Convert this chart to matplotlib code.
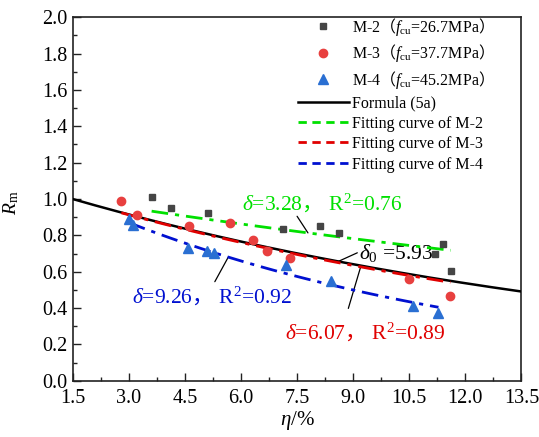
import numpy as np
import matplotlib
matplotlib.use('Agg')
import matplotlib.pyplot as plt
from matplotlib.ticker import MultipleLocator, FormatStrFormatter
from matplotlib.lines import Line2D

plt.rcParams['font.family'] = ['Liberation Serif', 'Noto Sans CJK SC']
plt.rcParams['mathtext.fontset'] = 'custom'
plt.rcParams['mathtext.rm'] = 'Liberation Serif'
plt.rcParams['mathtext.it'] = 'Liberation Serif:italic'
plt.rcParams['mathtext.sf'] = 'Noto Sans CJK SC'

# test data
eta_m2 = [3.61, 4.12, 5.12, 7.11, 8.12, 8.61, 11.20, 11.41, 11.61]
rm_m2 = [1.013, 0.949, 0.921, 0.833, 0.850, 0.811, 0.697, 0.751, 0.605]
eta_m3 = [2.80, 3.22, 4.60, 5.71, 6.31, 6.70, 7.31, 10.50, 11.60]
rm_m3 = [0.987, 0.912, 0.853, 0.866, 0.774, 0.714, 0.675, 0.562, 0.466]
eta_m4 = [3.01, 3.10, 4.59, 5.09, 5.29, 7.19, 8.40, 10.61, 11.28]
rm_m4 = [0.888, 0.857, 0.733, 0.714, 0.704, 0.637, 0.551, 0.411, 0.371]

series_names = ['M-2', 'M-3', 'M-4']
fcu = ['26.7', '37.7', '45.2']
delta_fit = [3.28, 6.07, 9.26]
r2_fit = [0.76, 0.89, 0.92]
delta0 = 5.93
eta_ref = 1.5


def rm_curve(eta, delta):
    return np.exp(-delta * (np.asarray(eta) - eta_ref) / 100.0)


fig = plt.figure(figsize=(5.39, 4.37), dpi=100)
ax = fig.add_axes([0.1349, 0.1288, 0.8326, 0.8316])

pt_colors = ['#454545', '#e8403f', '#2a6fd2']
fit_colors = ['#00e000', '#e00000', '#0010d0']
markers = ['s', 'o', '^']
msizes = [5, 6, 6.5]
etas = [eta_m2, eta_m3, eta_m4]
rms = [rm_m2, rm_m3, rm_m4]

# formula (5a)
xf = np.linspace(1.5, 13.5, 200)
ax.plot(xf, rm_curve(xf, delta0), color='black', lw=1.8, zorder=3)

for i in range(3):
    xe = np.linspace(min(etas[i]), max(etas[i]), 100)
    ax.plot(xe, rm_curve(xe, delta_fit[i]), color=fit_colors[i], lw=2.0,
            ls=(0, (6, 2.5, 1.5, 2.5)), zorder=4)
for i in range(3):
    ax.plot(etas[i], rms[i], ls='none', marker=markers[i], ms=msizes[i],
            color=pt_colors[i], mec=pt_colors[i], zorder=5)

# annotations
lw_lead = 0.9
fs_note = 15.5
# green
p = 7.79
ax.annotate('', xy=(p, rm_curve(p, delta_fit[0])), xytext=(7.50, 0.905),
            arrowprops=dict(arrowstyle='-', color='black', lw=lw_lead, shrinkA=0, shrinkB=0))
ax.text(8.16, 0.976, r'$\delta$=%.2f$\mathsf{，}$ R$^2$=%.2f' % (delta_fit[0], r2_fit[0]),
        color=fit_colors[0], fontsize=fs_note, ha='center', va='center')
# black
p = 8.60
ax.annotate('', xy=(p, rm_curve(p, delta0)), xytext=(9.11, 0.704),
            arrowprops=dict(arrowstyle='-', color='black', lw=lw_lead, shrinkA=0, shrinkB=0))
ax.text(9.15, 0.703, r'$\delta_0$ =%.2f' % delta0, color='black', fontsize=fs_note,
        ha='left', va='center')
# red
p = 9.20
ax.annotate('', xy=(p, rm_curve(p, delta_fit[1])), xytext=(8.87, 0.398),
            arrowprops=dict(arrowstyle='-', color='black', lw=lw_lead, shrinkA=0, shrinkB=0))
ax.text(9.32, 0.268, r'$\delta$=%.2f$\mathsf{，}$ R$^2$=%.2f' % (delta_fit[1], r2_fit[1]),
        color=fit_colors[1], fontsize=fs_note, ha='center', va='center')
# blue
p = 5.66
ax.annotate('', xy=(p, rm_curve(p, delta_fit[2])), xytext=(5.30, 0.545),
            arrowprops=dict(arrowstyle='-', color='black', lw=lw_lead, shrinkA=0, shrinkB=0))
ax.text(5.22, 0.466, r'$\delta$=%.2f$\mathsf{，}$ R$^2$=%.2f' % (delta_fit[2], r2_fit[2]),
        color=fit_colors[2], fontsize=fs_note, ha='center', va='center')

# legend
handles = []
labels = []
for i in range(3):
    handles.append(Line2D([], [], ls='none', marker=markers[i], ms=msizes[i],
                          color=pt_colors[i]))
    labels.append(r'%s$\mathsf{（}f_{\mathrm{cu}}$=%sMPa$\mathsf{）}$' % (series_names[i], fcu[i]))
handles.append(Line2D([], [], color='black', lw=1.8))
labels.append('Formula (5a)')
for i in range(3):
    handles.append(Line2D([], [], color=fit_colors[i], lw=2.0, ls=(0, (3, 2))))
    labels.append('Fitting curve of %s' % series_names[i])
ax.legend(handles, labels, loc='upper left', bbox_to_anchor=(0.487, 1.022), frameon=False,
          fontsize=11.5, handlelength=3.2, handletextpad=0.2, labelspacing=0.28,
          borderaxespad=0.0)

ax.set_xlim(1.5, 13.5)
ax.set_ylim(0.0, 2.0)
ax.xaxis.set_major_locator(MultipleLocator(1.5))
ax.xaxis.set_minor_locator(MultipleLocator(0.75))
ax.yaxis.set_major_locator(MultipleLocator(0.2))
ax.yaxis.set_minor_locator(MultipleLocator(0.1))
ax.xaxis.set_major_formatter(FormatStrFormatter('%.1f'))
ax.yaxis.set_major_formatter(FormatStrFormatter('%.1f'))
ax.tick_params(which='both', direction='in', top=False, right=False, labelsize=14.5,
               width=1.0, colors='#222222', labelcolor='black')
ax.tick_params(which='major', length=6)
ax.tick_params(axis='x', which='major', pad=6)
ax.tick_params(axis='y', which='major', pad=4)
ax.tick_params(which='minor', length=3)
for s in ax.spines.values():
    s.set_linewidth(1.2)
    s.set_color('#222222')

ax.set_xlabel(r'$\eta$/%', fontsize=15, labelpad=1)
ax.set_ylabel(r'$R_{\mathrm{m}}$', fontsize=14, labelpad=8)
ax.yaxis.set_label_coords(-0.115, 0.49)

fig.savefig('out.png', dpi=100)
